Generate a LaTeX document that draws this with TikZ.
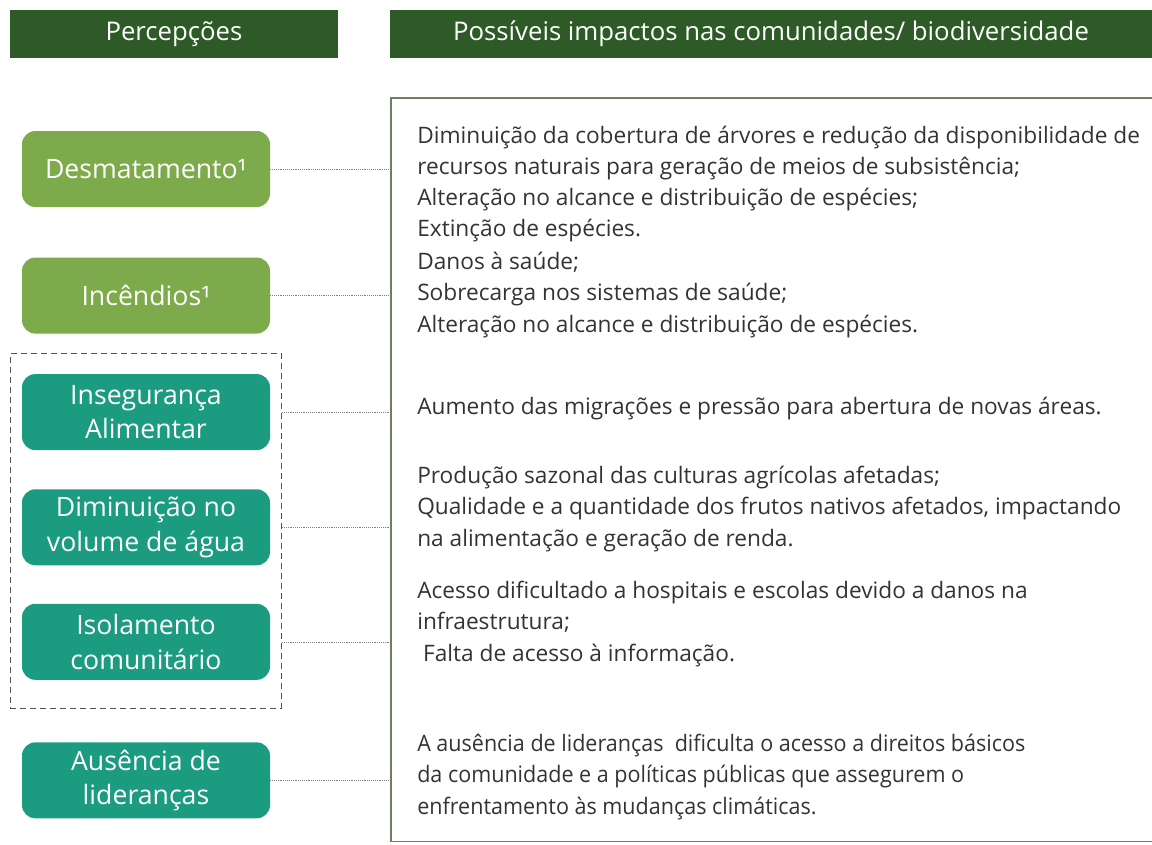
\documentclass[tikz,border=0pt]{standalone}
\usepackage{fontspec}
\setmainfont{Open Sans}
\newfontfamily\condfont[FakeStretch=0.95]{Open Sans}
\usetikzlibrary{positioning,fit}

\definecolor{headgreen}{HTML}{2D5A27}
\definecolor{leafgreen}{HTML}{7DAA4A}
\definecolor{climateteal}{HTML}{1B9C80}
\definecolor{textgray}{HTML}{333333}
\definecolor{framegreen}{HTML}{6B7F63}

\tikzset{
  header/.style={fill=headgreen, text=white, minimum height=36pt, inner sep=0pt,
    font=\fontsize{19.3}{23}\selectfont},
  percep/.style={rounded corners=10pt, text=white, minimum width=186pt,
    minimum height=57pt, inner sep=0pt, align=center,
    font=\fontsize{20}{26}\selectfont},
  forest/.style={percep, fill=leafgreen},
  climate/.style={percep, fill=climateteal},
  impact/.style={anchor=west, align=left, text=textgray, inner sep=0pt,
    font=\fontsize{17}{23.4}\selectfont},
  link/.style={densely dotted, draw=gray, thin},
}

\begin{document}
\begin{tikzpicture}[x=0.75pt, y=-0.75pt]
  \useasboundingbox (0,0) rectangle (1152,844);

  % headers
  \node (hpercep) [header, minimum width=246pt] at (174,34) {Percepções};
  \node (himpact) [header, minimum width=571.5pt] at (771,34)
  {Possíveis impactos nas comunidades/ biodiversidade};

  % perceptions
  \node (desmat) [forest] at (146,169) {Desmatamento¹};
  \node (incend) [forest, below = 37.5pt of desmat] {Incêndios¹};
  \node (insegur) [climate, below = 30pt of incend] {Insegurança\\Alimentar};
  \node (diminui) [climate, below = 29pt of insegur] {Diminuição no\\volume de água};
  \node (isolam) [climate, below = 28.5pt of diminui] {Isolamento\\comunitário};
  \node (ausenc) [climate, below = 46.5pt of isolam] {Ausência de\\lideranças};

  \node (grupo) [draw=textgray!85, dash pattern=on 4.5pt off 3pt, line width=0.7pt,
  inner xsep=8.5pt, inner ysep=18pt, yshift=-3pt, fit=(insegur) (isolam)] {};

  % impacts frame
  \node (impactos) [anchor=north west, inner sep=0pt, minimum width=575pt,
  minimum height=557pt] at (391,98) {};
  \draw[framegreen, line width=0.9pt] (impactos.north east) -- (impactos.north west)
  -- (impactos.south west) -- (impactos.south east);

  \node (tdesmat) [impact] at (417,184) {Diminuição da cobertura de árvores e redução da disponibilidade de\\
    recursos naturais para geração de meios de subsistência;\\
    Alteração no alcance e distribuição de espécies;\\
    Extinção de espécies.};
  \node (tincend) [impact] at (417,295) {Danos à saúde;\\
    Sobrecarga nos sistemas de saúde;\\
    Alteração no alcance e distribuição de espécies.};
  \node (tinsegur) [impact] at (417,409) {Aumento das migrações e pressão para abertura de novas áreas.};
  \node (tdiminui) [impact] at (417,509) {Produção sazonal das culturas agrícolas afetadas;\\
    Qualidade e a quantidade dos frutos nativos afetados, impactando\\
    na alimentação e geração de renda.};
  \node (tisolam) [impact] at (417,624) {Acesso dificultado a hospitais e escolas devido a danos na\\
    infraestrutura;\\
    \ Falta de acesso à informação.};
  \node (tausenc) [impact, font=\condfont\fontsize{17}{23.4}\selectfont] at (417,777)
  {A ausência de lideranças\ \ dificulta o acesso a direitos básicos\\
    da comunidade e a políticas públicas que assegurem o\\
    enfrentamento às mudanças climáticas.};

  % connectors
  \draw[link] (desmat.east) -- (desmat.east -| impactos.west);
  \draw[link] (incend.east) -- (incend.east -| impactos.west);
  \draw[link] (insegur.east -| grupo.east) -- (insegur.east -| impactos.west);
  \draw[link] (diminui.east -| grupo.east) -- (diminui.east -| impactos.west);
  \draw[link] (isolam.east -| grupo.east) -- (isolam.east -| impactos.west);
  \draw[link] (ausenc.east) -- (ausenc.east -| impactos.west);
\end{tikzpicture}
\end{document}
